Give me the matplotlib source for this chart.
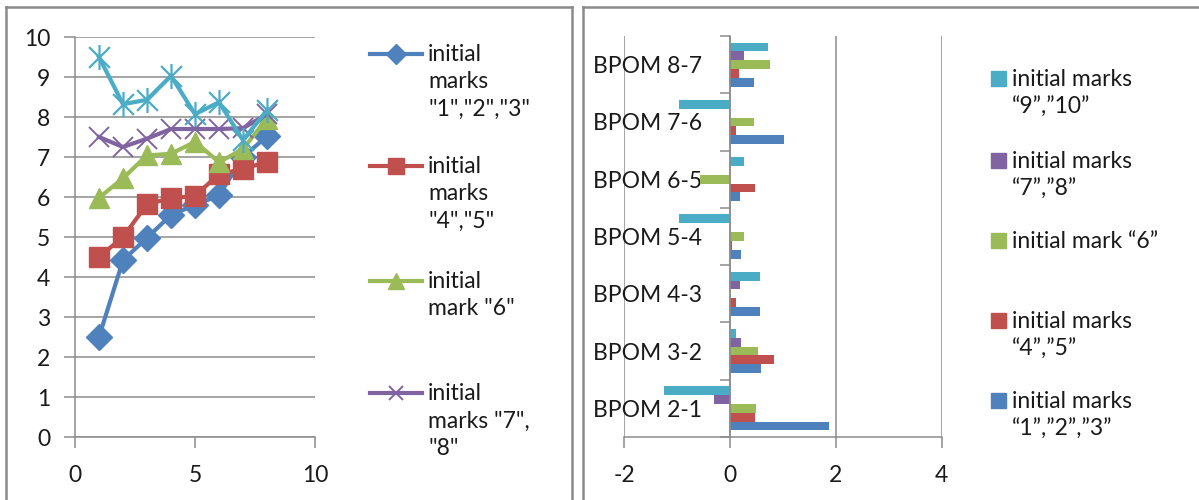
import matplotlib
matplotlib.use("Agg")
import matplotlib.pyplot as plt
import numpy as np
from matplotlib.path import Path
from matplotlib.lines import Line2D
from matplotlib.patches import Rectangle

plt.rcParams['font.family'] = ['Lato', 'DejaVu Sans']
plt.rcParams['axes.unicode_minus'] = False

# ---------------- data ----------------
steps = [1, 2, 3, 4, 5, 6, 7, 8]
marks_123 = [2.5, 4.42, 4.98, 5.55, 5.8, 6.04, 7.0, 7.52]
marks_45 = [4.5, 5.0, 5.82, 5.97, 6.03, 6.57, 6.7, 6.88]
mark_6 = [5.98, 6.47, 7.04, 7.08, 7.38, 6.87, 7.2, 7.96]
marks_78 = [7.5, 7.25, 7.46, 7.7, 7.7, 7.7, 7.72, 8.07]
marks_910 = [9.5, 8.32, 8.43, 9.03, 8.07, 8.37, 7.42, 8.17]

left_labels = ['initial\nmarks\n"1","2","3"', 'initial\nmarks\n"4","5"',
               'initial\nmark "6"', 'initial\nmarks "7",\n"8"']

categories = ['BPOM 2-1', 'BPOM 3-2', 'BPOM 4-3', 'BPOM 5-4',
              'BPOM 6-5', 'BPOM 7-6', 'BPOM 8-7']
d_123 = [1.87, 0.59, 0.57, 0.22, 0.20, 1.03, 0.45]
d_45 = [0.47, 0.84, 0.12, 0.05, 0.48, 0.12, 0.17]
d_6 = [0.50, 0.54, 0.03, 0.27, -0.56, 0.45, 0.75]
d_78 = [-0.29, 0.22, 0.20, 0.0, 0.0, 0.0, 0.27]
d_910 = [-1.25, 0.12, 0.57, -0.96, 0.27, -0.96, 0.72]

right_labels = ['initial marks\n\u201c1\u201d,\u201d2\u201d,\u201d3\u201d',
                'initial marks\n\u201c4\u201d,\u201d5\u201d',
                'initial mark \u201c6\u201d',
                'initial marks\n\u201c7\u201d,\u201d8\u201d',
                'initial marks\n\u201c9\u201d,\u201d10\u201d']

# ---------------- styles ----------------
BLUE = '#4F81BD'
RED = '#C0504D'
GREEN = '#9BBB59'
PURPLE = '#8064A2'
CYAN = '#4BACC6'
GRID = '#8C8C8C'
TXT = '#1a1a1a'
FS = 16.5

star = Path([(-1, -1), (1, 1), (-1, 1), (1, -1), (0, -1.2), (0, 1.2)],
            [Path.MOVETO, Path.LINETO, Path.MOVETO, Path.LINETO, Path.MOVETO, Path.LINETO])

W, H = 1199, 500
fig = plt.figure(figsize=(W / 100, H / 100), dpi=100)


def fx(px):
    return px / W


def fy(py):
    return 1 - py / H


# panel borders
for x0, x1 in [(6, 572), (583, 1205)]:
    fig.add_artist(Line2D([fx(x0), fx(x0)], [fy(7), fy(505)], color='#8a8a8a', lw=1.8))
    fig.add_artist(Line2D([fx(x0), fx(x1)], [fy(7), fy(7)], color='#8a8a8a', lw=1.8))
    fig.add_artist(Line2D([fx(x1), fx(x1)], [fy(7), fy(505)], color='#8a8a8a', lw=1.8))

# ---------------- left chart ----------------
axL = fig.add_axes([fx(75), fy(437), fx(315) - fx(75), fy(37) - fy(437)])
axL.set_xlim(0, 10)
axL.set_ylim(0, 10)
axL.set_yticks(np.arange(0, 11, 1))
axL.set_xticks([0, 5, 10])
axL.yaxis.grid(True, color=GRID, lw=1.1)
axL.set_axisbelow(True)
for s in ['top', 'right']:
    axL.spines[s].set_visible(False)
for s in ['left', 'bottom']:
    axL.spines[s].set_color(GRID)
    axL.spines[s].set_linewidth(1.1)
axL.tick_params(axis='both', colors=GRID, length=8, width=1.1, labelsize=FS, labelcolor=TXT)
axL.tick_params(axis='y', pad=10)
axL.tick_params(axis='x', pad=12)

series_left = [
    (marks_123, BLUE, dict(marker='D', markersize=13)),
    (marks_45, RED, dict(marker='s', markersize=15)),
    (mark_6, GREEN, dict(marker='^', markersize=15)),
    (marks_78, PURPLE, dict(marker='x', markersize=14, markeredgewidth=1.4)),
    (marks_910, CYAN, dict(marker=star, markersize=18, markeredgewidth=1.6)),
]
for vals, col, mk in series_left:
    axL.plot(steps, vals, color=col, lw=3, markerfacecolor=col, markeredgecolor=col,
             clip_on=False, **mk)

# left legend (manual)
leg_y = [54, 166, 281, 393]
leg_handles = series_left[:4]
for (vals, col, mk), lab, y in zip(leg_handles, left_labels, leg_y):
    mk2 = dict(mk)
    mk2['markersize'] = mk['markersize'] * 0.75
    fig.add_artist(Line2D([fx(370), fx(396), fx(422)], [fy(y), fy(y), fy(y)], color=col, lw=3,
                          markevery=[1], markerfacecolor=col, markeredgecolor=col,
                          **mk2))
    fig.text(fx(428), fy(y - 10), lab, fontsize=FS, color=TXT, va='top', ha='left',
             linespacing=1.38)

# ---------------- right chart ----------------
axR = fig.add_axes([fx(624), fy(437), fx(941.5) - fx(624), fy(36) - fy(437)])
n = len(categories)
y = np.arange(n)
h = 1 / 6.5
series_right = [(d_123, BLUE), (d_45, RED), (d_6, GREEN), (d_78, PURPLE), (d_910, CYAN)]
for i, (vals, col) in enumerate(series_right):
    axR.barh(y + (i - 2) * h, vals, height=h, color=col, edgecolor='none')
axR.set_xlim(-2, 4)
axR.set_ylim(-0.5, n - 0.5)
axR.set_xticks([-2, 0, 2, 4])
axR.xaxis.grid(True, color=GRID, lw=1.1)
axR.set_axisbelow(True)
for s in ['top', 'right']:
    axR.spines[s].set_visible(False)
axR.spines['left'].set_position(('data', 0))
for s in ['left', 'bottom']:
    axR.spines[s].set_color(GRID)
    axR.spines[s].set_linewidth(1.1)
axR.set_yticks(y)
axR.set_yticklabels(categories)
axR.set_yticks(np.arange(-0.5, n, 1), minor=True)
axR.tick_params(axis='y', which='major', length=0, pad=20, labelsize=FS, labelcolor=TXT)
axR.tick_params(axis='y', which='minor', length=7, width=1.1, colors=GRID)
axR.tick_params(axis='x', colors=GRID, length=8, width=1.1, labelsize=FS, labelcolor=TXT, pad=12)

# right legend (manual)
rleg_y = [401, 321, 241, 161, 79]
for (vals, col), lab, yy in zip(series_right, right_labels, rleg_y):
    fig.add_artist(Rectangle((fx(991), fy(yy + 7)), fx(15), 15 / H, color=col,
                             transform=fig.transFigure))
    fig.text(fx(1012), fy(yy - 10), lab, fontsize=FS, color=TXT, va='top', ha='left',
             linespacing=1.38)

fig.savefig('out.png', dpi=100)
